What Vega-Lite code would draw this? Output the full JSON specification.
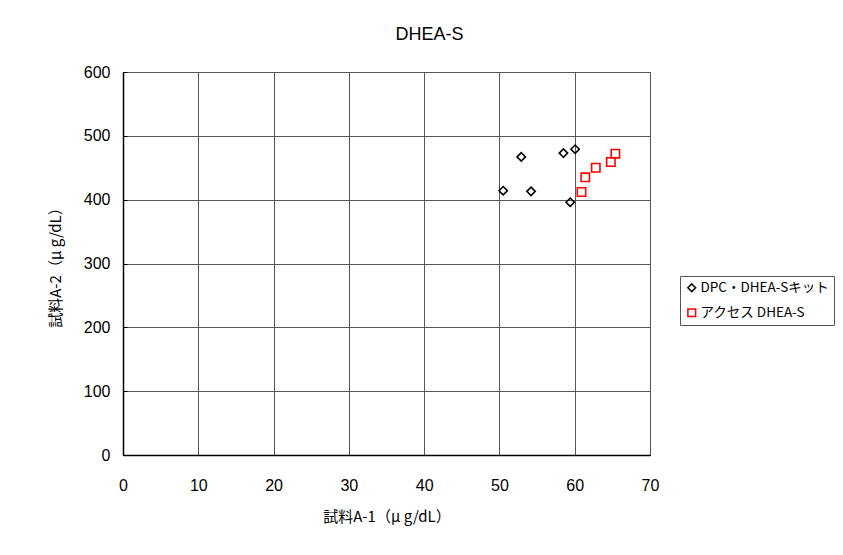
{
  "$schema": "https://vega.github.io/schema/vega-lite/v6.json",
  "autosize": "none",
  "width": 527,
  "height": 383,
  "padding": {"left": 123, "top": 72, "right": 193, "bottom": 100},
  "background": "white",
  "title": {"text": "DHEA-S", "fontSize": 18, "font": "Liberation Sans", "fontWeight": "normal", "color": "black", "anchor": "middle", "offset": 20, "dx": 43},
  "config": {
    "view": {"stroke": "black", "strokeWidth": 1},
    "font": "Noto Sans CJK JP"
  },
  "data": {
    "values": [
      {"a1": 50.5, "a2": 414, "series": "DPC・DHEA-Sキット"},
      {"a1": 52.9, "a2": 467, "series": "DPC・DHEA-Sキット"},
      {"a1": 54.2, "a2": 413, "series": "DPC・DHEA-Sキット"},
      {"a1": 58.5, "a2": 473, "series": "DPC・DHEA-Sキット"},
      {"a1": 60.05, "a2": 479, "series": "DPC・DHEA-Sキット"},
      {"a1": 59.4, "a2": 396, "series": "DPC・DHEA-Sキット"},
      {"a1": 60.9, "a2": 412, "series": "アクセス DHEA-S"},
      {"a1": 61.4, "a2": 435, "series": "アクセス DHEA-S"},
      {"a1": 62.8, "a2": 450, "series": "アクセス DHEA-S"},
      {"a1": 64.8, "a2": 459, "series": "アクセス DHEA-S"},
      {"a1": 65.4, "a2": 472, "series": "アクセス DHEA-S"}
    ]
  },
  "mark": {"type": "point", "filled": false, "strokeWidth": 1.6, "size": 70, "opacity": 1},
  "encoding": {
    "x": {
      "field": "a1", "type": "quantitative",
      "scale": {"domain": [0, 70], "nice": false},
      "axis": {"values": [0,10,20,30,40,50,60,70], "title": "試料A-1\uFF08μ g/dL\uFF09", "titleFontSize": 15, "titleFontWeight": "normal", "titlePadding": 16, "labelFontSize": 16, "labelPadding": 22, "labelFlush": false, "ticks": false, "domainColor": "black", "domainWidth": 1.5, "gridColor": "#555", "gridOpacity": 1, "labelColor": "black", "titleColor": "black", "labelFont": "Liberation Sans", "titleFont": "Noto Sans CJK JP"}
    },
    "y": {
      "field": "a2", "type": "quantitative",
      "scale": {"domain": [0, 600], "nice": false},
      "axis": {"values": [0,100,200,300,400,500,600], "title": "試料A-2\uFF08μ g/dL\uFF09", "titleFontSize": 15, "titleFontWeight": "normal", "titlePadding": 20, "labelFontSize": 16, "labelPadding": 17, "labelFlush": false, "ticks": true, "tickSize": -4, "tickColor": "black", "domainColor": "black", "domainWidth": 1.5, "gridColor": "#555", "gridOpacity": 1, "labelColor": "black", "titleColor": "black", "labelFont": "Liberation Sans", "titleFont": "Noto Sans CJK JP"}
    },
    "shape": {
      "field": "series", "type": "nominal",
      "scale": {"domain": ["DPC・DHEA-Sキット", "アクセス DHEA-S"], "range": ["diamond", "square"]},
      "legend": {"orient": "none", "legendX": 557, "legendY": 204, "title": null, "labelFontSize": 13.5, "labelColor": "black", "strokeColor": "#555", "fillColor": "white", "padding": 5, "symbolSize": 60, "symbolStrokeWidth": 1.5, "rowPadding": 10, "labelOffset": 2, "labelFont": "Noto Sans CJK JP"}
    },
    "color": {
      "field": "series", "type": "nominal",
      "scale": {"domain": ["DPC・DHEA-Sキット", "アクセス DHEA-S"], "range": ["black", "#ff0000"]},
      "legend": {"orient": "none", "legendX": 557, "legendY": 204, "title": null, "labelFontSize": 13.5, "labelColor": "black", "strokeColor": "#555", "fillColor": "white", "padding": 5, "symbolSize": 60, "symbolStrokeWidth": 1.5, "rowPadding": 10, "labelOffset": 2, "labelFont": "Noto Sans CJK JP"}
    }
  }
}
